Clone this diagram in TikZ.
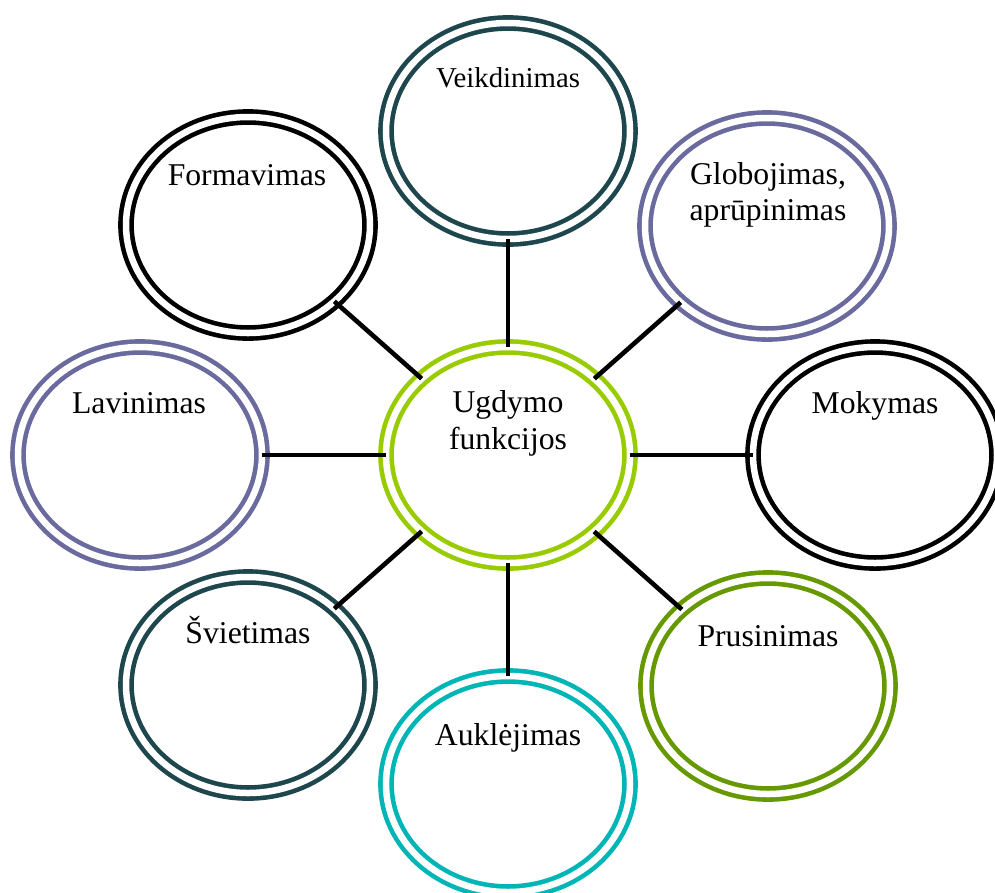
\documentclass[tikz,border=0pt]{standalone}
\usepackage{fontspec}
\setmainfont{Liberation Serif}
\usetikzlibrary{shapes.geometric}
\definecolor{cteal}{HTML}{1D474D}
\definecolor{cslate}{HTML}{6A6A9E}
\definecolor{clime}{HTML}{99CC00}
\definecolor{colive}{HTML}{669900}
\definecolor{ccyan}{HTML}{00B5B5}
\begin{document}
\begin{tikzpicture}[x=1pt,y=-1pt,
  ring/.style={ellipse, minimum width=244pt, minimum height=216pt, inner sep=0pt, outer sep=0pt,
    line width=4.6pt, double=white, double distance=6.5pt, draw=#1},
  lbl/.style={font=\fontsize{31.7}{36}\selectfont, inner sep=0pt, anchor=base},
  conn/.style={line width=4.6pt, draw=black}]
\clip (0,0) rectangle (995,892);
\fill[white] (0,0) rectangle (995,892);
\node[ring=clime]  (c)    at (508,455) {};
\node[ring=cteal]  (veik) at (508,131) {};
\node[ring=cslate] (glob) at (767,226) {};
\node[ring=black]  (mok)  at (875,455) {};
\node[ring=colive] (prus) at (768,686) {};
\node[ring=ccyan]  (aukl) at (508,784) {};
\node[ring=cteal]  (sviet) at (248,685) {};
\node[ring=cslate] (lav)  at (140,455) {};
\node[ring=black]  (form) at (248,225) {};
\foreach \n in {veik,glob,mok,prus,aukl,sviet,lav,form}{\draw[conn] (c) -- (\n);}
\node[lbl] (tc1) at (508,412) {Ugdymo};
\node[lbl] (tc2) at (508,449) {funkcijos};
\node[lbl, font=\fontsize{28.8}{34}\selectfont] (tveik) at (508,87) {Veikdinimas};
\node[lbl] (tglob1) at (768,184) {Globojimas,};
\node[lbl] (tglob2) at (768,220) {aprūpinimas};
\node[lbl] (tmok) at (875,413) {Mokymas};
\node[lbl] (tprus) at (768,646) {Prusinimas};
\node[lbl] (taukl) at (508,745) {Auklėjimas};
\node[lbl] (tsviet) at (248,643) {Švietimas};
\node[lbl] (tlav) at (139,413) {Lavinimas};
\node[lbl] (tform) at (247,185) {Formavimas};
\end{tikzpicture}
\end{document}
